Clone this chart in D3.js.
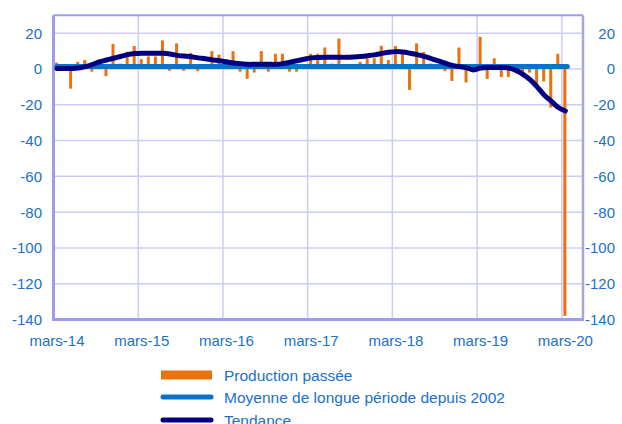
<!DOCTYPE html>
<html><head><meta charset="utf-8">
<script src="https://cdn.jsdelivr.net/npm/d3@7"></script>
<style>body{margin:0;background:#fff;}svg{display:block;}text{font-family:"Liberation Sans",Arial,sans-serif;}</style>
</head><body>
<svg id="c" width="622" height="424"></svg>
<script>
const months = ["mars-14","avr.-14","mai-14","juin-14","juil.-14","août-14","sept.-14","oct.-14","nov.-14","déc.-14","janv.-15","févr.-15",
"mars-15","avr.-15","mai-15","juin-15","juil.-15","août-15","sept.-15","oct.-15","nov.-15","déc.-15","janv.-16","févr.-16",
"mars-16","avr.-16","mai-16","juin-16","juil.-16","août-16","sept.-16","oct.-16","nov.-16","déc.-16","janv.-17","févr.-17",
"mars-17","avr.-17","mai-17","juin-17","juil.-17","août-17","sept.-17","oct.-17","nov.-17","déc.-17","janv.-18","févr.-18",
"mars-18","avr.-18","mai-18","juin-18","juil.-18","août-18","sept.-18","oct.-18","nov.-18","déc.-18","janv.-19","févr.-19",
"mars-19","avr.-19","mai-19","juin-19","juil.-19","août-19","sept.-19","oct.-19","nov.-19","déc.-19","janv.-20","févr.-20",
"mars-20","avr.-20","mai-20"];
const tickLabels = ["mars-14","mars-15","mars-16","mars-17","mars-18","mars-19","mars-20"];
const yTicks = [20,0,-20,-40,-60,-80,-100,-120,-140];
const production = [3.5,0.5,-11,4,5,-1.5,4.5,-4,14,3,9.7,12.8,
5.5,7,7,16,-1,14.3,-1,9,-1.2,2,10,8,
2,10,-1.5,-5.5,-2,10,-1.5,8.5,8.5,-1.5,-1.5,1,
8.5,8.5,12,3,17,2,2,4,6,6,13,5,
12.8,9.7,-11.7,14.3,9.5,3,1,-1.2,-6.7,12,-7.5,-1,
18,-5.5,6,-4.5,-4.5,-1,-3,-2,-9,-7,-21.5,8.5,
-138];
const tendance = [0.3,0.3,0.3,0.5,1.3,2.5,4,5,6,7,8,8.6,
8.8,8.8,8.8,8.8,8.4,7.6,7.2,6.8,6.2,5.7,5.1,4.6,
4,3.4,3,2.6,2.6,2.6,2.6,2.6,3,3.8,4.6,5.4,
6.2,6.4,6.5,6.5,6.5,6.5,6.7,7,7.4,7.9,8.7,9.4,
9.7,9.5,8.8,8,7,5.8,4.5,3.2,2,1.3,0.7,-0.5,
0.5,0.8,0.8,0.8,0.5,-0.8,-3,-6,-10,-14.5,-18,-21.5,
-23.5];
const moyenne = 1.4;
const legendLabels = ["Production passée","Moyenne de longue période depuis 2002","Tendance"];

const svg = d3.select("#c");
const x = d3.scaleBand().domain(months).range([53.5, 583]).padding(0);
const y = d3.scaleLinear().domain([-140, 30]).range([319.5, 15.3]);
const textCol = "#2070C8", gridCol = "#CCCCF8", borderCol = "#9C9CF0";
const orange = "#E8720C", blue = "#0A72C8", navy = "#000080";

// gridlines
svg.append("g").selectAll("line").data(yTicks).join("line")
  .attr("x1", 53.5).attr("x2", 583).attr("y1", d => y(d)).attr("y2", d => y(d))
  .attr("stroke", gridCol).attr("stroke-width", 1.5);
svg.append("g").selectAll("line").data(tickLabels.slice(1)).join("line")
  .attr("x1", d => x(d)).attr("x2", d => x(d)).attr("y1", y(30)).attr("y2", y(-140))
  .attr("stroke", gridCol).attr("stroke-width", 1.5);
// border
svg.append("line").attr("x1", 53.5).attr("x2", 583).attr("y1", y(30)).attr("y2", y(30)).attr("stroke", borderCol).attr("stroke-width", 2);
svg.append("line").attr("x1", 583).attr("x2", 583).attr("y1", y(30)).attr("y2", y(-140)).attr("stroke", "#A8A8D8").attr("stroke-width", 2.5);
svg.append("line").attr("x1", 53.5).attr("x2", 53.5).attr("y1", y(30)).attr("y2", y(-140)+1.5).attr("stroke", borderCol).attr("stroke-width", 3);
svg.append("line").attr("x1", 52).attr("x2", 584).attr("y1", y(-140)).attr("y2", y(-140)).attr("stroke", borderCol).attr("stroke-width", 3);

// bars
const bw = 3;
svg.append("g").selectAll("rect").data(production).join("rect")
  .attr("x", (d,i) => x(months[i]) + x.bandwidth()/2 - bw/2 - 0.5)
  .attr("width", bw)
  .attr("y", d => y(Math.max(0, d)))
  .attr("height", d => Math.abs(y(d) - y(0)))
  .attr("fill", orange);

// average line
const nData = production.length;
svg.append("line")
  .attr("x1", x(months[0]) + x.bandwidth()/2).attr("x2", x(months[nData-1]) + x.bandwidth()/2 + 2)
  .attr("y1", y(moyenne)).attr("y2", y(moyenne))
  .attr("stroke", blue).attr("stroke-width", 5).attr("stroke-linecap", "round");

// trend
const line = d3.line().x((d,i) => x(months[i]) + x.bandwidth()/2).y(d => y(d)).curve(d3.curveCatmullRom.alpha(0.5));
svg.append("path").datum(tendance).attr("d", line)
  .attr("fill", "none").attr("stroke", navy).attr("stroke-width", 5).attr("stroke-linecap", "round").attr("stroke-linejoin", "round");

// y labels
svg.append("g").selectAll("text").data(yTicks).join("text")
  .attr("x", 42).attr("y", d => y(d)).attr("dy", "0.36em").attr("text-anchor", "end")
  .attr("font-size", 15).attr("fill", textCol).text(d => d);
svg.append("g").selectAll("text").data(yTicks).join("text")
  .attr("x", 615).attr("y", d => y(d)).attr("dy", "0.36em").attr("text-anchor", "end")
  .attr("font-size", 15).attr("fill", textCol).text(d => d);
// x labels
svg.append("g").selectAll("text").data(tickLabels).join("text")
  .attr("x", d => x(d) + x.bandwidth()/2).attr("y", 346).attr("text-anchor", "middle")
  .attr("font-size", 15).attr("fill", textCol).text(d => d);

// legend
const lg = svg.append("g");
const rowsY = [375, 397, 420];
lg.append("rect").attr("x", 161).attr("y", rowsY[0]-4.5).attr("width", 51).attr("height", 9).attr("fill", orange);
lg.append("line").attr("x1", 163).attr("x2", 211).attr("y1", rowsY[1]).attr("y2", rowsY[1]).attr("stroke", blue).attr("stroke-width", 5).attr("stroke-linecap", "round");
lg.append("line").attr("x1", 163).attr("x2", 211).attr("y1", rowsY[2]).attr("y2", rowsY[2]).attr("stroke", navy).attr("stroke-width", 5).attr("stroke-linecap", "round");
lg.selectAll("text").data(legendLabels).join("text")
  .attr("x", 224).attr("y", (d,i) => rowsY[i]).attr("dy", "0.36em")
  .attr("font-size", 15.5).attr("fill", textCol).text(d => d);
</script>
</body></html>
